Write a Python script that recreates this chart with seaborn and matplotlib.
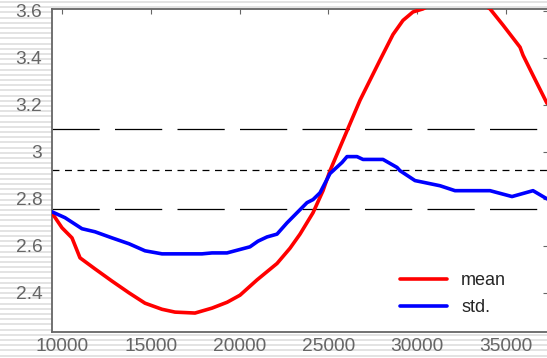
import numpy as np
import pandas as pd
import matplotlib
matplotlib.use("Agg")
import matplotlib.pyplot as plt
import seaborn as sns

# Rolling statistics along the sample index
mean_x = [9437, 10000, 10563, 11014, 11858, 12815, 13773, 14674, 15631, 16363,
          17489, 18447, 19300, 20023, 20980, 21543, 22107, 22839, 23402, 24134,
          24697, 25091, 25936, 26780, 27906, 28638, 29200, 29764, 30327, 31285,
          32242, 33256, 34101, 34833, 35790, 35959, 36522, 37310]
mean_y = [2.74, 2.677, 2.634, 2.549, 2.502, 2.45, 2.40, 2.356, 2.33, 2.318,
          2.314, 2.335, 2.36, 2.39, 2.455, 2.49, 2.525, 2.59, 2.65, 2.741,
          2.835, 2.92, 3.07, 3.22, 3.391, 3.50, 3.56, 3.596, 3.609, 3.645,
          3.66, 3.645, 3.609, 3.54, 3.446, 3.412, 3.326, 3.207]

std_x = [9437, 10169, 11126, 11858, 12815, 13773, 14674, 15631, 17883, 18447,
         19291, 20586, 21036, 21543, 22107, 22670, 23233, 23796, 24134, 24528,
         25091, 25767, 26048, 26611, 26949, 28075, 28864, 29033, 29877, 31285,
         32130, 34101, 35339, 36522, 37310]
std_y = [2.745, 2.72, 2.673, 2.66, 2.634, 2.609, 2.579, 2.566, 2.566, 2.57,
         2.57, 2.596, 2.62, 2.638, 2.65, 2.698, 2.741, 2.784, 2.797, 2.826,
         2.908, 2.955, 2.98, 2.98, 2.968, 2.968, 2.934, 2.92, 2.878, 2.856,
         2.835, 2.835, 2.81, 2.835, 2.80]

# Reference levels: centre and upper/lower band
center_level = 2.925
upper_level = 3.096
lower_level = 2.755

series_names = ["mean", "std."]
series_colors = ["#ff0000", "#0000ff"]

x_ticks = [10000, 15000, 20000, 25000, 30000, 35000]
y_ticks = [2.4, 2.6, 2.8, 3.0, 3.2, 3.4, 3.6]
y_tick_labels = ["2.4", "2.6", "2.8", "3", "3.2", "3.4", "3.6"]

df = pd.concat([
    pd.DataFrame({"x": mean_x, "value": mean_y, "series": series_names[0]}),
    pd.DataFrame({"x": std_x, "value": std_y, "series": series_names[1]}),
])

sns.set_style("white")
plt.rcParams["font.family"] = ["Liberation Sans", "DejaVu Sans"]
plt.rcParams["lines.scale_dashes"] = False

W, H = 547, 358
fig = plt.figure(figsize=(W / 100, H / 100), dpi=100)
fig.patch.set_facecolor("white")

# Striped backdrop behind the plotting area
bg = fig.add_axes([0, 0, 1, 1], zorder=-10)
bg.set_xlim(0, 1)
bg.set_ylim(H, 0)
bg.axis("off")
for y0 in np.arange(1, H, 5.2):
    bg.axhspan(y0, y0 + 2, color="#e3e3e3", lw=0)

left_px, right_px, top_px, bottom_px = 52, 548, 9, 332
ax = fig.add_axes([left_px / W, 1 - bottom_px / H,
                   (right_px - left_px) / W, (bottom_px - top_px) / H])
ax.set_facecolor("white")

sns.lineplot(data=df, x="x", y="value", hue="series", palette=series_colors,
             hue_order=series_names, estimator=None, linewidth=2.6, ax=ax,
             legend=False, zorder=3)

ax.axhline(upper_level, color="black", lw=0.9, dashes=(34, 11), zorder=2)
ax.axhline(center_level, color="black", lw=0.9, dashes=(5, 4), zorder=2)
ax.axhline(lower_level, color="black", lw=0.9, dashes=(34, 11), zorder=2)

ax.set_xlim(9437, 37366)
ax.set_ylim(2.2333, 3.6085)
ax.set_xticks(x_ticks)
ax.set_xticklabels([str(v) for v in x_ticks])
ax.set_yticks(y_ticks)
ax.set_yticklabels(y_tick_labels)
ax.set_xlabel("")
ax.set_ylabel("")

grey = "#666666"
for s in ax.spines.values():
    s.set_visible(True)
    s.set_color(grey)
    s.set_linewidth(1.3)
ax.tick_params(axis="both", direction="in", length=3.5, width=0.8, color=grey,
               labelcolor=grey, labelsize=13.8, top=True, right=True)
ax.tick_params(axis="x", pad=4)
ax.tick_params(axis="y", pad=7)

handles = [plt.Line2D([], [], color=c, lw=2.6) for c in series_colors]
ax.legend(handles, series_names, loc="lower left", bbox_to_anchor=(0.701, 0.05),
          frameon=False, fontsize=13, handlelength=2.6, handletextpad=0.8,
          labelspacing=0.55, borderpad=0, borderaxespad=0)

fig.savefig("out.png", dpi=100, facecolor="white")
